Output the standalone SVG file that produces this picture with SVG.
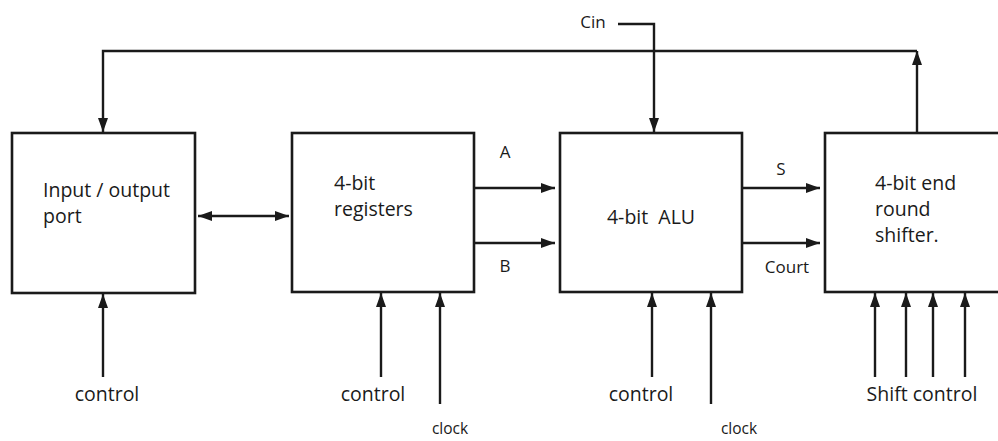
<svg xmlns="http://www.w3.org/2000/svg" width="998" height="441" viewBox="0 0 998 441">
<style>
.box{fill:#fff;stroke:#1a1a1a;stroke-width:2.6}
.ln{fill:none;stroke:#1a1a1a;stroke-width:2.4}
.t{font-family:"Open Sans","Noto Sans","Liberation Sans",sans-serif;font-size:19.5px;fill:#1a1a1a;font-weight:500}
.s{font-size:17px}
.c{font-size:15.5px}
</style>
<defs>
<marker id="ah" viewBox="0 0 14 10" refX="14" refY="5" markerWidth="6" markerHeight="4.3" orient="auto-start-reverse" markerUnits="strokeWidth">
<path d="M0,0 L14,5 L0,10 z" fill="#1a1a1a"/>
</marker>
</defs>
<rect width="998" height="441" fill="#fff"/>
<g id="io-port">
<rect class="box" x="12" y="133" width="183" height="160"/>
<text class="t" x="43" y="197">Input / output</text>
<text class="t" x="43" y="223">port</text>
</g>
<g id="registers">
<rect class="box" x="292" y="133" width="182" height="159"/>
<text class="t" x="334" y="190">4-bit</text>
<text class="t" x="334" y="216">registers</text>
</g>
<g id="alu">
<rect class="box" x="560" y="133" width="182" height="159"/>
<text class="t" x="651" y="224" text-anchor="middle" xml:space="preserve">4-bit  ALU</text>
</g>
<g id="shifter">
<rect class="box" x="825" y="133" width="190" height="159"/>
<text class="t" x="875" y="190">4-bit end</text>
<text class="t" x="875" y="216">round</text>
<text class="t" x="875" y="242">shifter.</text>
</g>
<g id="connectors">
<path class="ln" d="M917,133 V51" marker-end="url(#ah)"/>
<path class="ln" d="M917,51 H103 V132" marker-end="url(#ah)"/>
<path class="ln" d="M618,24 H654 V132" marker-end="url(#ah)"/>
<path class="ln" d="M198,216 H289" marker-start="url(#ah)" marker-end="url(#ah)"/>
<path class="ln" d="M474,188 H555" marker-end="url(#ah)"/>
<path class="ln" d="M474,243 H555" marker-end="url(#ah)"/>
<path class="ln" d="M742,188 H820" marker-end="url(#ah)"/>
<path class="ln" d="M742,243 H820" marker-end="url(#ah)"/>
<path class="ln" d="M103,377 V294" marker-end="url(#ah)"/>
<path class="ln" d="M381,377 V293" marker-end="url(#ah)"/>
<path class="ln" d="M440,404 V293" marker-end="url(#ah)"/>
<path class="ln" d="M652,377 V293" marker-end="url(#ah)"/>
<path class="ln" d="M711,404 V293" marker-end="url(#ah)"/>
<path class="ln" d="M875,377 V293" marker-end="url(#ah)"/>
<path class="ln" d="M906,377 V293" marker-end="url(#ah)"/>
<path class="ln" d="M933,377 V293" marker-end="url(#ah)"/>
<path class="ln" d="M965,377 V293" marker-end="url(#ah)"/>
</g>
<g id="labels">
<text class="t s" x="593" y="28" text-anchor="middle">Cin</text>
<text class="t s" x="505" y="158" text-anchor="middle">A</text>
<text class="t s" x="505" y="272" text-anchor="middle">B</text>
<text class="t s" x="781" y="175" text-anchor="middle">S</text>
<text class="t s" x="787" y="273" text-anchor="middle">Court</text>
<text class="t" x="107" y="401" text-anchor="middle">control</text>
<text class="t" x="373" y="401" text-anchor="middle">control</text>
<text class="t c" x="450" y="434" text-anchor="middle">clock</text>
<text class="t" x="641" y="401" text-anchor="middle">control</text>
<text class="t c" x="739" y="434" text-anchor="middle">clock</text>
<text class="t" x="922" y="401" text-anchor="middle">Shift control</text>
</g>
</svg>
